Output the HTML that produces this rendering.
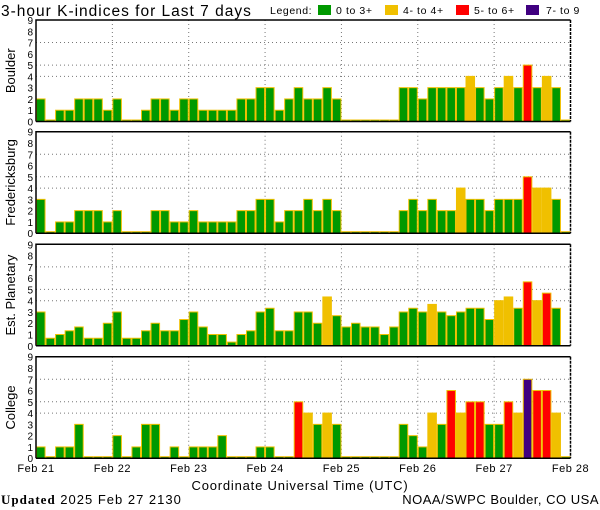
<!DOCTYPE html>
<html><head><meta charset="utf-8"><style>
html,body{margin:0;padding:0;background:#fff;}
svg{display:block;font-family:"Liberation Sans",sans-serif;}
</style></head><body>
<svg id="chart" width="600" height="510" viewBox="0 0 600 510" xmlns="http://www.w3.org/2000/svg">
<text x="1" y="16" font-size="15.5" letter-spacing="1" fill="#000">3-hour K-indices for Last 7 days</text>
<g font-size="10.5" fill="#000" letter-spacing="0.6">
<text x="270" y="14">Legend:</text>
<rect x="318" y="5" width="13" height="10" fill="#009900"/>
<text x="336" y="14">0 to 3+</text>
<rect x="385" y="5" width="13" height="10" fill="#f0c000"/>
<text x="403" y="14">4- to 4+</text>
<rect x="456" y="5" width="13" height="10" fill="#ff0000"/>
<text x="474" y="14">5- to 6+</text>
<rect x="526" y="5" width="13" height="10" fill="#400080"/>
<text x="546" y="14">7- to 9</text>
</g>
<g id="panels"></g>
<g id="xlabels" font-size="11" fill="#000"></g>
<text x="300" y="490" font-size="13" letter-spacing="0.8" text-anchor="middle" fill="#000">Coordinate Universal Time (UTC)</text>
<text x="1" y="504" font-size="13" letter-spacing="1" fill="#000"><tspan font-family="Liberation Serif, serif" font-weight="bold">Updated</tspan> 2025 Feb 27 2130</text>
<text x="599" y="504" font-size="13" letter-spacing="0.5" text-anchor="end" fill="#000">NOAA/SWPC Boulder, CO USA</text>
</svg>
<script>
const stations = ["Boulder","Fredericksburg","Est. Planetary","College"];
const dayLabels = ["Feb 21","Feb 22","Feb 23","Feb 24","Feb 25","Feb 26","Feb 27","Feb 28"];
const yTicks = [0,1,2,3,4,5,6,7,8,9];
const gridValues = [4,5,7];
const boulder = [2,0,1,1,2,2,2,1, 2,0,0,1,2,2,1,2, 2,1,1,1,1,2,2,3, 3,1,2,3,2,2,3,2, 0,0,0,0,0,0,3,3, 2,3,3,3,3,4,3,2, 3,4,3,5,3,4,3,0];
const fredericksburg = [3,0,1,1,2,2,2,1, 2,0,0,0,2,2,1,1, 2,1,1,1,1,2,2,3, 3,1,2,2,3,2,3,2, 0,0,0,0,0,0,2,3, 2,3,2,2,4,3,3,2, 3,3,3,5,4,4,3,0];
const planetary = [3,0.67,1,1.33,1.67,0.67,0.67,2, 3,0.67,0.67,1.33,2,1.33,1.33,2.33, 3,1.67,1,1,0.33,1,1.33,3, 3.33,1.33,1.33,3,3,2,4.33,2.67, 1.67,2,1.67,1.67,1,1.67,3,3.33, 3,3.67,3,2.67,3,3.33,3.33,2.33, 4,4.33,3.33,5.67,4,4.67,3.33,null];
const college = [1,0,1,1,3,0,0,0, 2,0,1,3,3,0,1,0, 1,1,1,2,0,0,0,1, 1,0,0,5,4,3,4,3, 0,0,0,0,0,0,3,2, 1,4,3,6,4,5,5,3, 3,5,4,7,6,6,4,0];
const series = [boulder,fredericksburg,planetary,college];

const NS="http://www.w3.org/2000/svg";
const X0=36, X1=570.5, NB=56, PH=101.5, UNIT=PH/9;
const tops=[20,131.7,244.3,356.7];
function xS(i){return X0+i*(X1-X0)/NB;}
function yS(v,top){return top+PH-v*UNIT;}
function color(v){return v<3.5?"#009900":v<4.5?"#f0c000":v<6.5?"#ff0000":"#400080";}
function mk(tag,attrs,parent){const e=document.createElementNS(NS,tag);for(const k in attrs)e.setAttribute(k,attrs[k]);parent.appendChild(e);return e;}
const panels=document.getElementById("panels");
stations.forEach((name,p)=>{
  const top=tops[p], bot=top+PH;
  const g=mk("g",{},panels);
  
  
  gridValues.forEach(v=>{
    const l=mk("line",{x1:X0,x2:X1,y1:yS(v,top),y2:yS(v,top),stroke:"#777","stroke-dasharray":"1,3"},g);
    
    
  });
  for(let d=1;d<7;d++){
    const x=xS(d*8);
    const l=mk("line",{x1:x,x2:x,y1:top,y2:bot,stroke:"#777","stroke-dasharray":"1,3"},g);
    
    
  }
  const data=series[p];
  data.forEach((v,i)=>{
    if(v===null)return;
    const h=Math.max(v*UNIT,1.5);
    const r=mk("rect",{x:xS(i)+0.5,y:bot-h,width:(X1-X0)/NB-1,height:h,fill:color(v),stroke:"#f0c000","stroke-width":1},g);
    
    
  });
  const frame=mk("path",{d:`M${X0},${bot} V${top} H${X1}`,fill:"none",stroke:"#000","stroke-width":1.5},g);
  
  
  const rb=mk("line",{x1:X1,x2:X1,y1:top,y2:bot,stroke:"#000","stroke-width":1.5,"stroke-dasharray":"3,1"},g);
  
  
  const ax=mk("line",{x1:X0,x2:X1,y1:bot,y2:bot,stroke:"#000","stroke-width":1.5},g);
  
  
  yTicks.forEach(t=>{
    const tx=mk("text",{x:33,y:yS(t,top)+4,"font-size":"10","text-anchor":"end",fill:"#000"},g);
    tx.textContent=t;
    
    
  });
  const cy=top+PH/2;
  const yl=mk("text",{x:0,y:0,"font-size":"13","text-anchor":"middle",fill:"#000",transform:`translate(15,${cy}) rotate(-90)`},g);
  yl.textContent=name;
  
  
});
const xl=document.getElementById("xlabels");
dayLabels.forEach((d,i)=>{
  const t=mk("text",{x:xS(i*8),y:472,"text-anchor":"middle","letter-spacing":"0.5"},xl);
  t.textContent=d;
  
  
});
</script>
</body></html>
